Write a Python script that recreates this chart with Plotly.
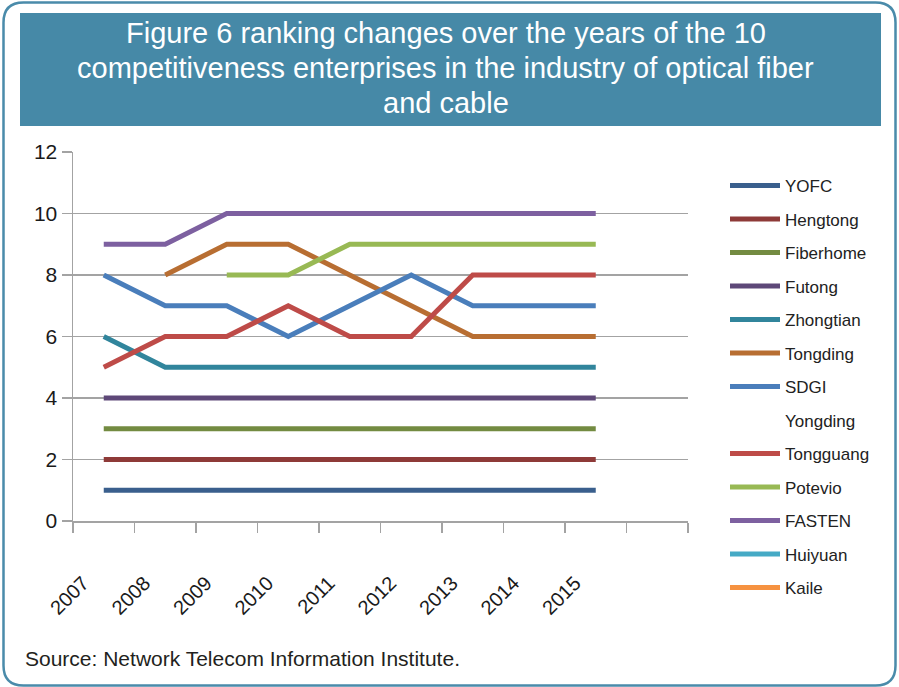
import plotly.graph_objects as go

# ---- data ----
years = [2007, 2008, 2009, 2010, 2011, 2012, 2013, 2014, 2015]
names = ["YOFC", "Hengtong", "Fiberhome", "Futong", "Zhongtian", "Tongding",
         "SDGI", "Yongding", "Tongguang", "Potevio", "FASTEN", "Huiyuan", "Kaile"]
ranks = {
    "YOFC":      [1, 1, 1, 1, 1, 1, 1, 1, 1],
    "Hengtong":  [2, 2, 2, 2, 2, 2, 2, 2, 2],
    "Fiberhome": [3, 3, 3, 3, 3, 3, 3, 3, 3],
    "Futong":    [4, 4, 4, 4, 4, 4, 4, 4, 4],
    "Zhongtian": [6, 5, 5, 5, 5, 5, 5, 5, 5],
    "Tongding":  [None, 8, 9, 9, 8, 7, 6, 6, 6],
    "SDGI":      [8, 7, 7, 6, 7, 8, 7, 7, 7],
    "Yongding":  [],
    "Tongguang": [5, 6, 6, 7, 6, 6, 8, 8, 8],
    "Potevio":   [None, None, 8, 8, 9, 9, 9, 9, 9],
    "FASTEN":    [9, 9, 10, 10, 10, 10, 10, 10, 10],
    "Huiyuan":   [],
    "Kaile":     [],
}
colors = {
    "YOFC": "#3A5F8D", "Hengtong": "#8E3A38", "Fiberhome": "#738B41",
    "Futong": "#5E4878", "Zhongtian": "#31859C", "Tongding": "#B86E32",
    "SDGI": "#4A7EBB", "Yongding": "rgba(0,0,0,0)", "Tongguang": "#BE4B48",
    "Potevio": "#98B954", "FASTEN": "#7D60A0", "Huiyuan": "#46AAC5",
    "Kaile": "#F69240",
}
y_ticks = [0, 2, 4, 6, 8, 10, 12]
x_tick_labels = ["2007", "2008", "2009", "2010", "2011", "2012", "2013", "2014", "2015", "", ""]

# ---- layout geometry (pixels) ----
W, H = 899, 687
L, R, T, B = 73, 688, 152, 521
FONT = "Liberation Sans, Arial, sans-serif"


def px(x):
    return (x - L) / (R - L)


def py(y):
    return (B - y) / (B - T)


fig = go.Figure()
for n in names:
    vals = ranks[n]
    fig.add_trace(go.Scatter(
        x=years[:len(vals)] if vals else [None],
        y=vals if vals else [None],
        mode="lines", name=n, legendgroup=n,
        line=dict(color=colors[n], width=5),
        connectgaps=False, hoverinfo="skip",
    ))

grid = "#A3A3A3"
tick_positions = [years[0] - 0.5 + k for k in range(len(x_tick_labels))]

fig.update_xaxes(
    range=[years[0] - 0.5, years[0] - 0.5 + len(x_tick_labels) - 1],
    tickmode="array", tickvals=tick_positions, ticktext=x_tick_labels,
    ticks="outside", ticklen=10, tickwidth=1.5, tickcolor=grid,
    showline=True, linecolor=grid, linewidth=1.5,
    showgrid=False, zeroline=False, tickangle=-45,
    ticklabelshift=10, ticklabelstandoff=31,
    tickfont=dict(family=FONT, size=20, color="#1a1a1a"),
)
fig.update_yaxes(
    range=[0, 12], tickmode="array", tickvals=y_ticks,
    ticks="outside", ticklen=10, tickwidth=1.5, tickcolor=grid,
    showline=True, linecolor=grid, linewidth=1.5,
    showgrid=True, gridcolor=grid, gridwidth=1.5, zeroline=False,
    tickfont=dict(family=FONT, size=21, color="#1a1a1a"),
)

# outer rounded border
x0, x1, y0, y1, r = 3.5, 895.5, 2.5, 685.5, 20
path = (f"M{px(x0 + r)},{py(y0)} L{px(x1 - r)},{py(y0)} Q{px(x1)},{py(y0)} {px(x1)},{py(y0 + r)} "
        f"L{px(x1)},{py(y1 - r)} Q{px(x1)},{py(y1)} {px(x1 - r)},{py(y1)} "
        f"L{px(x0 + r)},{py(y1)} Q{px(x0)},{py(y1)} {px(x0)},{py(y1 - r)} "
        f"L{px(x0)},{py(y0 + r)} Q{px(x0)},{py(y0)} {px(x0 + r)},{py(y0)} Z")

shapes = [
    dict(type="path", xref="paper", yref="paper", path=path,
         line=dict(color="#4A8BAA", width=2.5), fillcolor="rgba(0,0,0,0)", layer="below"),
    dict(type="rect", xref="paper", yref="paper",
         x0=px(20), x1=px(881), y0=py(13), y1=py(126),
         fillcolor="#4689A7", line=dict(width=0), layer="below"),
]

title_lines = ["Figure 6 ranking changes over the years of the 10",
               "competitiveness enterprises in the industry of optical fiber",
               "and cable"]
title_y = [33, 68, 103]
annotations = []
for t, yy in zip(title_lines, title_y):
    annotations.append(dict(
        text=t, xref="paper", yref="paper", x=px(446), y=py(yy),
        xanchor="center", yanchor="middle", showarrow=False,
        font=dict(family=FONT, size=29, color="white")))
annotations.append(dict(
    text="Source: Network Telecom Information Institute.",
    xref="paper", yref="paper", x=px(23), y=py(658),
    xanchor="left", yanchor="middle", showarrow=False,
    font=dict(family=FONT, size=21, color="#231F20")))

fig.update_layout(
    width=W, height=H,
    margin=dict(l=L, r=W - R, t=T, b=H - B, pad=0),
    paper_bgcolor="white", plot_bgcolor="white",
    shapes=shapes, annotations=annotations,
    legend=dict(
        x=725 / W, y=1 - 168 / H, xanchor="left", yanchor="top",
        xref="container", yref="container",
        font=dict(family=FONT, size=17, color="#222222"),
        tracegroupgap=8.4, traceorder="grouped", bgcolor="rgba(0,0,0,0)",
        itemwidth=50, maxheight=600,
    ),
    showlegend=True,
    hovermode=False,
)

fig.write_html("out.html", config={"displayModeBar": False, "staticPlot": True},
               post_script="document.body.style.margin='0';")
